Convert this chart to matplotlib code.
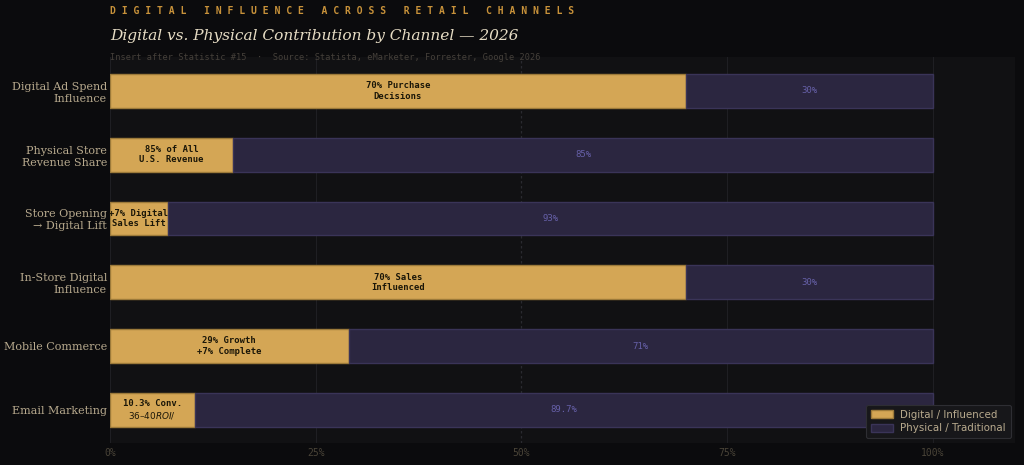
import matplotlib
matplotlib.use("Agg")
import matplotlib.pyplot as plt
from matplotlib.patches import Patch

categories = ["Digital Ad Spend\nInfluence", "Physical Store\nRevenue Share",
              "Store Opening\n→ Digital Lift", "In-Store Digital\nInfluence",
              "Mobile Commerce", "Email Marketing"]
digital = [70, 15, 7, 70, 29, 10.3]
physical = [30, 85, 93, 30, 71, 89.7]
digital_labels = ["70% Purchase\nDecisions", "85% of All\nU.S. Revenue",
                  "+7% Digital\nSales Lift", "70% Sales\nInfluenced",
                  "29% Growth\n+7% Complete", "10.3% Conv.\n$36–40 ROI/$"]
physical_labels = ["30%", "85%", "93%", "30%", "71%", "89.7%"]
xticks = [0, 25, 50, 75, 100]
xticklabels = ["0%", "25%", "50%", "75%", "100%"]

FIG_BG = "#0b0b0d"
AX_BG = "#111113"
GOLD = "#d4a655"
PURPLE = "#2b2640"

fig = plt.figure(figsize=(10.24, 4.65), dpi=100, facecolor=FIG_BG)
ax = fig.add_axes([110/1024, 1-443/465, (1015-110)/1024, (443-57)/465])
ax.set_facecolor(AX_BG)

y = list(range(len(categories)))
h = 0.53
ax.barh(y, digital, height=h, color=GOLD, edgecolor="#9c7a3a", linewidth=1, zorder=3,
        label="Digital / Influenced")
ax.barh(y, physical, left=digital, height=h, color=PURPLE, edgecolor="#3a3458",
        linewidth=1, zorder=3, label="Physical / Traditional")

for i in y:
    ax.text(digital[i] / 2, i, digital_labels[i], ha="center", va="center",
            family="DejaVu Sans Mono", fontweight="bold", fontsize=6.4,
            color="#1a1608", zorder=4, linespacing=1.2)
    ax.text(digital[i] + physical[i] / 2, i, physical_labels[i], ha="center",
            va="center", family="DejaVu Sans Mono", fontsize=6.5, color="#6660a8", zorder=4)

ax.set_xlim(0, 110)
ax.set_ylim(5.52, -0.53)
ax.set_yticks(y)
ax.set_yticklabels(categories, family="DejaVu Serif", fontsize=8, color="#b8aa8e",
                   linespacing=1.25)
ax.set_xticks(xticks)
ax.set_xticklabels(xticklabels, family="DejaVu Sans Mono", fontsize=7, color="#4a4438")
ax.tick_params(axis="y", length=0, pad=2.2)
ax.tick_params(axis="x", length=0, pad=3.5)
for s in ax.spines.values():
    s.set_visible(False)

for xv in [25, 75, 100]:
    ax.axvline(xv, color="#1f1f23", linewidth=0.8, zorder=1)
ax.axvline(50, color="#2a2a30", linewidth=0.9, linestyle=(0, (2, 2)), zorder=1)
ax.axvline(0, color="#1f1f23", linewidth=0.8, zorder=1)

leg = ax.legend(handles=[Patch(facecolor=GOLD, edgecolor="#9c7a3a", label="Digital / Influenced"),
                         Patch(facecolor=PURPLE, edgecolor="#3a3458", label="Physical / Traditional")],
                loc="lower right", bbox_to_anchor=(0.9985, 0.005), fontsize=7.4,
                facecolor="#17171a", edgecolor="#2e2e33", labelcolor="#b8aa8e",
                framealpha=1, handlelength=2.2, handleheight=0.8, handletextpad=0.7,
                borderpad=0.45, labelspacing=0.35, borderaxespad=0.3)
leg.get_frame().set_linewidth(0.8)

header = "   ".join(" ".join(w) for w in "DIGITAL INFLUENCE ACROSS RETAIL CHANNELS".split())
fig.text(110/1024, 1-11/465, header, family="DejaVu Sans Mono", fontweight="bold",
         fontsize=7, color="#c8923a", ha="left", va="center")
fig.text(110/1024, 1-36/465, "Digital vs. Physical Contribution by Channel — 2026",
         family="DejaVu Serif", style="italic", fontsize=11.1, color="#e6dcc4",
         ha="left", va="center")
fig.text(110/1024, 1-57.5/465,
         "Insert after Statistic #15  ·  Source: Statista, eMarketer, Forrester, Google 2026",
         family="DejaVu Sans Mono", fontsize=6.2, color="#45403a", ha="left", va="center")

fig.savefig("out.png", dpi=100, facecolor=FIG_BG)
